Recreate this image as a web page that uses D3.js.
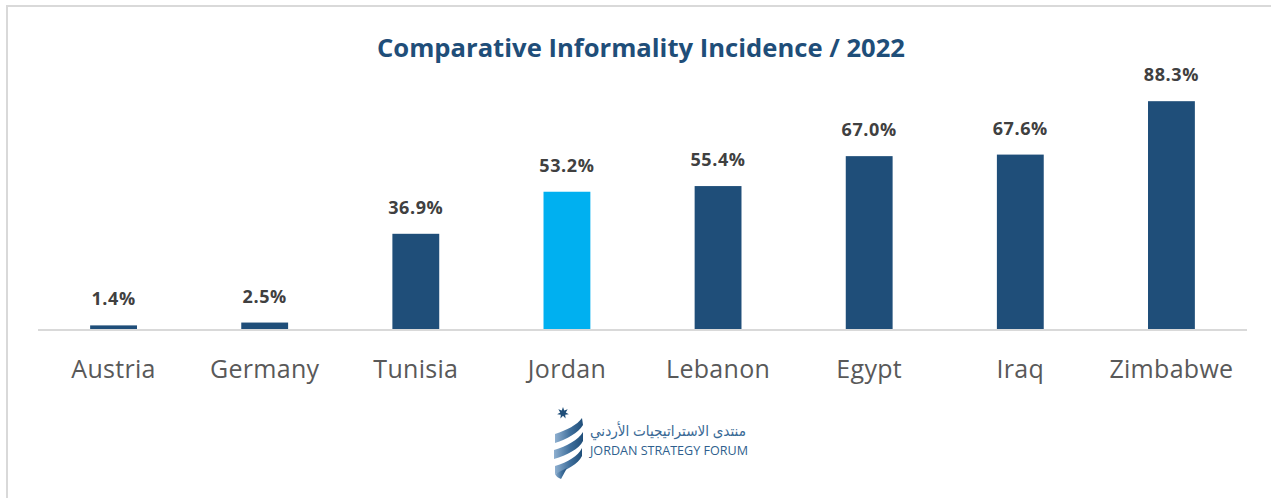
<!DOCTYPE html>
<html>
<head>
<meta charset="utf-8">
<script src="https://cdn.jsdelivr.net/npm/d3@7"></script>
<style>
  html, body { margin: 0; padding: 0; background: #fff; }
  svg { display: block; }
</style>
</head>
<body>
<svg id="chart" width="1271" height="498"></svg>
<script>
// Informality incidence by country, 2022 (percent)
const categories = ["Austria", "Germany", "Tunisia", "Jordan", "Lebanon", "Egypt", "Iraq", "Zimbabwe"];
const values = [1.4, 2.5, 36.9, 53.2, 55.4, 67.0, 67.6, 88.3];
const highlight = "Jordan";
const yTicks = [0, 100];

const W = 1271, H = 498;
const svg = d3.select("#chart");
const font = "'Open Sans', 'Noto Sans', sans-serif";

// frame
svg.append("path")
  .attr("d", `M7,${H} V6 H${W}`)
  .attr("fill", "none")
  .attr("stroke", "#d9d9d9")
  .attr("stroke-width", 2);

// title
svg.append("text")
  .attr("x", 641).attr("y", 57)
  .attr("text-anchor", "middle")
  .attr("font-family", font)
  .attr("font-weight", 700)
  .attr("font-size", 24.5)
  .attr("fill", "#1F4E79")
  .attr("textLength", 528)
  .attr("lengthAdjust", "spacingAndGlyphs")
  .text("Comparative Informality Incidence / 2022");

const data = categories.map((c, i) => ({ c, v: values[i] }));

const x = d3.scaleBand()
  .domain(categories)
  .range([38, 1247])
  .paddingInner(0.69)
  .paddingOuter(0.345);

const y = d3.scaleLinear()
  .domain(d3.extent(yTicks))
  .range([329, 71]);

// bars
svg.append("g").selectAll("rect")
  .data(data)
  .join("rect")
  .attr("x", d => x(d.c))
  .attr("width", x.bandwidth())
  .attr("y", d => y(d.v))
  .attr("height", d => y(0) - y(d.v))
  .attr("fill", d => d.c === highlight ? "#00B0F0" : "#1F4E79");

// category axis
const xAxis = svg.append("g")
  .attr("transform", `translate(0,${y(0)})`)
  .call(d3.axisBottom(x).tickSize(0).tickPadding(31));
xAxis.select(".domain")
  .attr("stroke", "#d9d9d9")
  .attr("stroke-width", 2)
  .attr("d", `M38,1H1247`);
xAxis.selectAll(".tick text")
  .attr("font-family", font)
  .attr("font-size", 25)
  .attr("letter-spacing", 0.3)
  .attr("fill", "#595959");

// value labels
svg.append("g").selectAll("text")
  .data(data)
  .join("text")
  .attr("x", d => x(d.c) + x.bandwidth() / 2)
  .attr("y", d => y(d.v) - 20)
  .attr("text-anchor", "middle")
  .attr("font-family", font)
  .attr("font-weight", 700)
  .attr("font-size", 18)
  .attr("letter-spacing", 0.6)
  .attr("fill", "#404040")
  .text(d => d.v.toFixed(1) + "%");

// forum logo
const logo = svg.append("g");
const defs = svg.append("defs");
const grad = defs.append("linearGradient")
  .attr("id", "ribbon").attr("x1", "0").attr("x2", "1").attr("y1", "0").attr("y2", "0");
grad.append("stop").attr("offset", "0").attr("stop-color", "#8fb0d0");
grad.append("stop").attr("offset", "0.55").attr("stop-color", "#3f6f9c");
grad.append("stop").attr("offset", "1").attr("stop-color", "#1F4E79");

// seven-pointed star
const star = d3.range(14).map(i => {
  const r = i % 2 === 0 ? 6 : 2.8;
  const a = -Math.PI / 2 + i * Math.PI / 7;
  return [563 + r * Math.cos(a), 413 + r * Math.sin(a)];
});
logo.append("path")
  .attr("d", "M" + star.join("L") + "Z")
  .attr("fill", "#1F4E79");

// swoosh bands
const bands = [
  "M582,418 C577,425 567,430 555,434 L555,443 C567,439 578,433 583,425 Z",
  "M583,432 C578,440 567,446 554,450 L554,459 C567,455 579,449 583,441 Z",
  "M582,448 C578,456 568,462 555,466 L555,474 C567,470 578,464 582,456 Z",
  "M555,474 C559,472 563,470 567,468 L561,479 C558,478 556,476 555,474 Z"
];
logo.selectAll("path.band")
  .data(bands)
  .join("path")
  .attr("class", "band")
  .attr("d", d => d)
  .attr("fill", "url(#ribbon)");

logo.append("text")
  .attr("x", 746).attr("y", 436)
  .attr("text-anchor", "end")
  .attr("font-family", "'Noto Sans', 'DejaVu Sans', sans-serif")
  .attr("font-size", 15)
  .attr("fill", "#3a6a96")
  .attr("textLength", 156)
  .attr("lengthAdjust", "spacingAndGlyphs")
  .text("منتدى الاستراتيجيات الأردني");

logo.append("text")
  .attr("x", 590).attr("y", 455)
  .attr("font-family", font)
  .attr("font-size", 12.5)
  .attr("fill", "#2f5f8e")
  .attr("textLength", 158)
  .attr("lengthAdjust", "spacingAndGlyphs")
  .text("JORDAN STRATEGY FORUM");
</script>
</body>
</html>
